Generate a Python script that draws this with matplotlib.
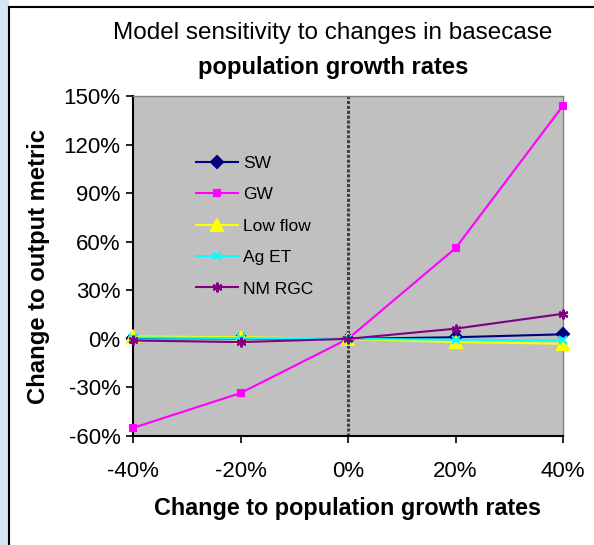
import matplotlib.pyplot as plt
from matplotlib.patches import Rectangle
from matplotlib.lines import Line2D
from matplotlib.ticker import FuncFormatter

plt.rcParams['font.family'] = ['Liberation Sans', 'DejaVu Sans']

# change in population growth rate (%)
x_vals = [-40, -20, 0, 20, 40]
# change to output metric (%)
sw = [0.5, 0.3, 0, 1.0, 2.8]
gw = [-55, -33.5, 0, 56, 144]
low_flow = [1.5, 1.0, 0, -2.0, -3.0]
ag_et = [0.8, 0.5, 0, -0.5, -1.0]
nm_rgc = [-1.0, -2.0, 0, 6.3, 15.5]

series = [
    ("SW", sw, "#000080", "D", 6),
    ("GW", gw, "#ff00ff", "s", 5),
    ("Low flow", low_flow, "#ffff00", "^", 8),
    ("Ag ET", ag_et, "#00ffff", "x", 6),
    ("NM RGC", nm_rgc, "#800080", (6, 2, 0), 7),
]

fig = plt.figure(figsize=(5.94, 5.45), dpi=100)
fig.patch.set_facecolor("white")

# light blue strip on the left and the chart frame
fig.patches.append(Rectangle((0, 0), 9 / 594, 1, transform=fig.transFigure,
                             facecolor="#d4e6f4", edgecolor="none", zorder=0))
fig.lines.append(Line2D([9 / 594, 9 / 594], [0, 1 - 7 / 545], transform=fig.transFigure,
                        color="black", lw=1.5))
fig.lines.append(Line2D([9 / 594, 1], [1 - 7 / 545, 1 - 7 / 545], transform=fig.transFigure,
                        color="black", lw=1.5))

ax = fig.add_axes([133 / 594, 109 / 545, 430 / 594, 340 / 545])
ax.set_facecolor("#c0c0c0")

ax.axvline(0, color="#404040", lw=2.2, ls=(0, (1, 0.6)), zorder=1)

for name, vals, col, mk, ms in series:
    ax.plot(x_vals, vals, color=col, marker=mk, markersize=ms, lw=1.5,
            markeredgecolor=col, markeredgewidth=1.5, label=name, zorder=3,
            clip_on=False)

pct = FuncFormatter(lambda v, pos: f"{int(round(v))}%")
ax.set_xlim(-40, 40)
ax.set_ylim(-60, 150)
ax.set_xticks(x_vals)
ax.set_yticks(range(-60, 151, 30))
ax.xaxis.set_major_formatter(pct)
ax.yaxis.set_major_formatter(pct)
ax.tick_params(direction="out", length=5, width=1.2, labelsize=16, pad=4)
ax.tick_params(axis="x", pad=13)

for s in ["left", "bottom"]:
    ax.spines[s].set_linewidth(1.5)
    ax.spines[s].set_color("black")
for s in ["top", "right"]:
    ax.spines[s].set_linewidth(1.0)
    ax.spines[s].set_color("#808080")

ax.set_xlabel("Change to population growth rates", fontsize=16.8, fontweight="bold", labelpad=11)
ax.set_ylabel("Change to output metric", fontsize=17.2, fontweight="bold", labelpad=10)

fig.text(333 / 594, 1 - 33 / 545, "Model sensitivity to changes in basecase",
         ha="center", va="center", fontsize=17.5)
fig.text(333 / 594, 1 - 67 / 545, "population growth rates",
         ha="center", va="center", fontsize=17.1, fontweight="bold")

leg = ax.legend(loc="upper left", bbox_to_anchor=(0.11, 0.871), frameon=False,
                fontsize=12.5, handlelength=2.4, labelspacing=0.94, handletextpad=0.3)

fig.savefig("out.png", dpi=100)
